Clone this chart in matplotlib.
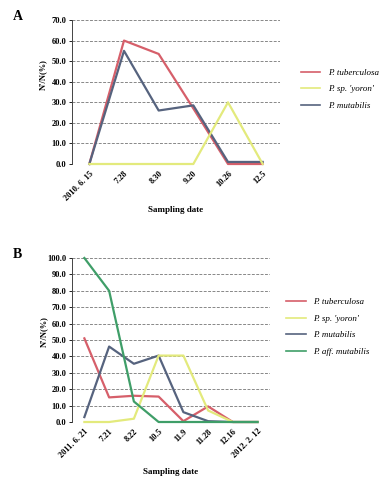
import matplotlib.pyplot as plt
import numpy as np

plt.rcParams['font.family'] = ['Liberation Serif', 'DejaVu Serif']

# Panel A
DATES_A = ['2010. 6. 15', '7.28', '8.30', '9.20', '10.26', '12.5']
TUB_A = [0.0, 60.0, 53.5, 27.0, 0.0, 0.0]
YORON_A = [0.0, 0.0, 0.0, 0.0, 30.0, 0.0]
MUT_A = [0.0, 55.0, 26.0, 28.5, 1.0, 1.0]

# Panel B
DATES_B = ['2011. 6. 21', '7.21', '8.22', '10.5', '11.9', '11.28', '12.16', '2012. 2. 12']
TUB_B = [51.0, 15.0, 16.0, 15.5, 0.5, 9.5, 0.0, 0.0]
YORON_B = [0.0, 0.0, 2.0, 40.5, 40.5, 7.0, 0.0, 0.0]
MUT_B = [3.0, 46.0, 35.5, 40.5, 6.0, 0.5, 0.0, 0.0]
AFF_B = [100.0, 80.0, 12.5, 0.0, 0.0, 0.0, 0.0, 0.0]

LABELS = ['P. tuberculosa', "P. sp. 'yoron'", 'P. mutabilis', 'P. aff. mutabilis']
COLORS = ['#d65f6a', '#e3ea7c', '#56637e', '#3f9e68']
ZORDERS = [3, 5, 4, 6]

W, H = 381, 493
fig = plt.figure(figsize=(W / 100, H / 100), dpi=100)


def panel(rect, dates, series, ymax, ylab_y, letter, letter_y, leg_anchor, xpad):
    ax = fig.add_axes(rect)
    x = np.arange(len(dates))
    for vals, label, color, z in zip(series, LABELS, COLORS, ZORDERS):
        ax.plot(x, vals, color=color, lw=1.6, label=label, zorder=z, clip_on=False)
    ax.set_xlim(-0.5, len(dates) - 0.5)
    ax.set_ylim(0, ymax)
    ticks = np.arange(0, ymax + 1, 10)
    ax.set_yticks(ticks)
    ax.set_yticklabels(['%.1f' % t for t in ticks], fontsize=6, fontweight='bold')
    ax.set_xticks(x)
    ax.set_xticklabels(dates, rotation=45, ha='right', rotation_mode='anchor',
                       fontsize=6, fontweight='bold')
    ax.tick_params(axis='x', length=0, pad=4)
    ax.tick_params(axis='y', length=2, width=0.6, pad=2, direction='out')
    ax.yaxis.grid(True, color='#555555', lw=0.7, ls=(0, (3, 1.5)), alpha=0.7)
    for s in ['top', 'right', 'bottom']:
        ax.spines[s].set_visible(False)
    ax.spines['left'].set_linewidth(0.7)
    ax.spines['left'].set_color('#444444')
    ax.set_ylabel("N'/N(%)", fontsize=6, fontweight='bold')
    ax.yaxis.set_label_coords(-0.12, ylab_y)
    ax.set_xlabel('Sampling date', fontsize=6.5, fontweight='bold', labelpad=xpad)
    leg = ax.legend(loc='center left', bbox_to_anchor=leg_anchor, frameon=False,
                    fontsize=6.5, handlelength=2.2, handletextpad=0.8,
                    labelspacing=0.9, prop={'style': 'italic', 'size': 6.5})
    for line in leg.get_lines():
        line.set_linewidth(1.2)
    fig.text(13 / W, letter_y, letter, fontsize=10, fontweight='bold',
             ha='left', va='center')
    return ax


panel([72 / W, 1 - 164 / H, 208 / W, 144 / H], DATES_A,
      [TUB_A, YORON_A, MUT_A], 70, 0.62, 'A', 1 - 16 / H, (1.06, 0.52), 3)
panel([72 / W, 1 - 422 / H, 198 / W, 164 / H], DATES_B,
      [TUB_B, YORON_B, MUT_B, AFF_B], 100, 0.55, 'B', 1 - 255 / H, (1.04, 0.58), 6)

plt.savefig('out.png', dpi=100)
